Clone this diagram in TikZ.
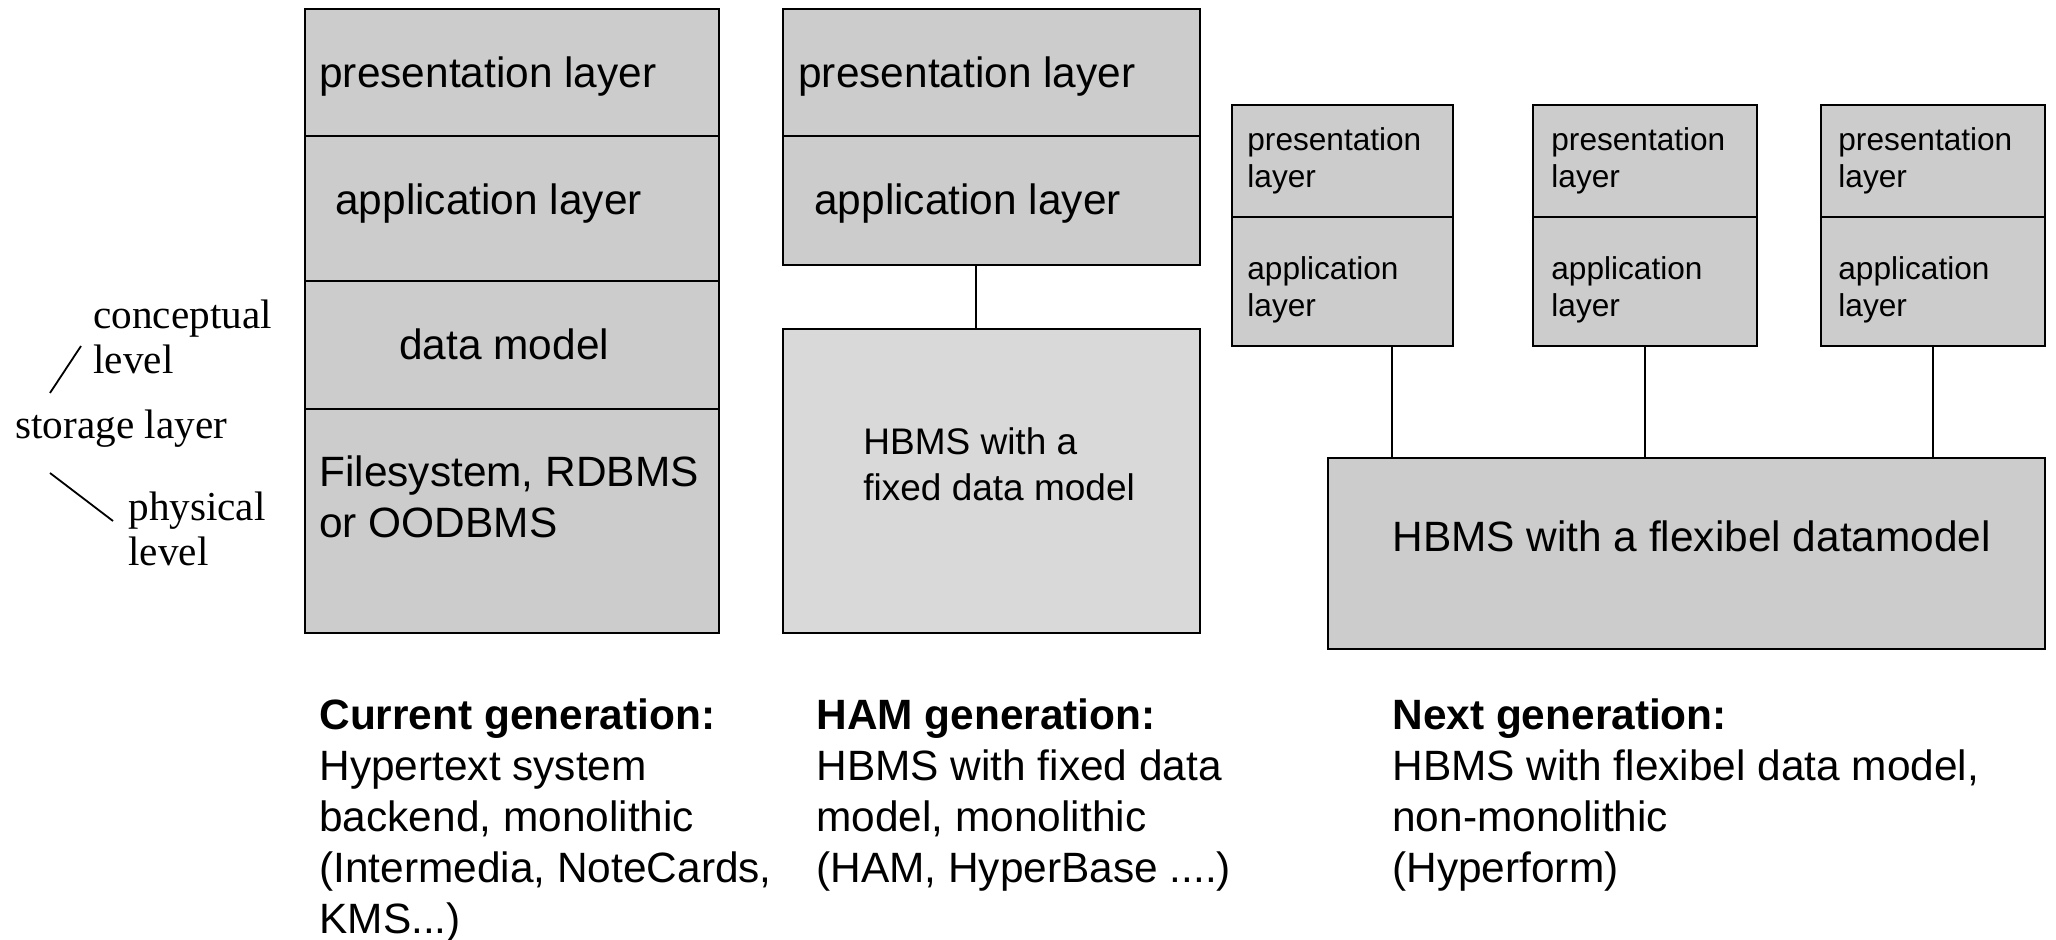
\documentclass[tikz,border=0pt]{standalone}
\usepackage{fontspec}
\setmainfont{Liberation Sans}
\newfontfamily\levelfont{Liberation Serif}
\usetikzlibrary{fit}
\definecolor{layerfill}{gray}{0.80}
\definecolor{hamfill}{gray}{0.85}

\begin{document}
\begin{tikzpicture}[x=0.5pt,y=-0.5pt,
  layerbox/.style={draw=black, fill=layerfill, line width=1.1pt, inner sep=0pt},
  hambox/.style={layerbox, fill=hamfill},
  conn/.style={draw=black, line width=0.9pt},
  % text nodes are placed by the baseline of their last line
  txt/.style={inner sep=0pt, anchor=base west, align=left},
  bigtxt/.style={txt, font=\fontsize{21.2}{25.5}\selectfont},
  midtxt/.style={txt, font=\fontsize{18.5}{23}\selectfont},
  smalltxt/.style={txt, font=\fontsize{15.8}{18.5}\selectfont},
  captxt/.style={txt, font=\fontsize{21.2}{25.5}\selectfont},
  leveltxt/.style={txt, font=\levelfont\fontsize{20.6}{22.6}\selectfont}
]
\useasboundingbox (0,0) rectangle (2056,940);

% current generation: monolithic four-layer stack
\node[layerbox, fit={(305,9) (719,136)}]   (p1) {};
\node[layerbox, fit={(305,136) (719,281)}] (a1) {};
\node[layerbox, fit={(305,281) (719,409)}] (d1) {};
\node[layerbox, fit={(305,409) (719,633)}] (s1) {};
\node[bigtxt] (tp1) at (319,88)  {presentation layer};
\node[bigtxt] (ta1) at (335,215) {application layer};
\node[bigtxt] (td1) at (399,360) {data model};
\node[bigtxt] (ts1) at (319,538) {Filesystem, RDBMS\\or OODBMS};

% HAM generation
\node[layerbox, fit={(783,9) (1200,136)}]   (p2) {};
\node[layerbox, fit={(783,136) (1200,265)}] (a2) {};
\node[hambox,   fit={(783,329) (1200,633)}] (h2) {};
\node[bigtxt] (tp2) at (798,88)  {presentation layer};
\node[bigtxt] (ta2) at (814,215) {application layer};
\node[midtxt] (th2) at (863,501) {HBMS with a\\fixed data model};
\coordinate (k2) at (976,0);
\draw[conn] (a2.south -| k2) -- (h2.north -| k2);

% next generation: several front ends on one flexible HBMS
\node[layerbox, fit={(1232,105) (1453,217)}] (p3) {};
\node[layerbox, fit={(1232,217) (1453,346)}] (a3) {};
\node[layerbox, fit={(1533,105) (1757,217)}] (p4) {};
\node[layerbox, fit={(1533,217) (1757,346)}] (a4) {};
\node[layerbox, fit={(1821,105) (2045,217)}] (p5) {};
\node[layerbox, fit={(1821,217) (2045,346)}] (a5) {};
\node[layerbox, fit={(1328,458) (2045,649)}] (big) {};

\node[smalltxt] (tp3) at (1247,188) {presentation\\layer};
\node[smalltxt] (ta3) at (1247,317) {application\\layer};
\node[smalltxt] (tp4) at (1551,188) {presentation\\layer};
\node[smalltxt] (ta4) at (1551,317) {application\\layer};
\node[smalltxt] (tp5) at (1838,188) {presentation\\layer};
\node[smalltxt] (ta5) at (1838,317) {application\\layer};
\node[bigtxt] (tbig) at (1392,552) {HBMS with a flexibel datamodel};

\coordinate (k3) at (1392,0);
\coordinate (k4) at (1645,0);
\coordinate (k5) at (1933,0);
\draw[conn] (a3.south -| k3) -- (big.north -| k3);
\draw[conn] (a4.south -| k4) -- (big.north -| k4);
\draw[conn] (a5.south -| k5) -- (big.north -| k5);

% storage layer annotation
\node[leveltxt] (lc) at (93,374)  {conceptual\\level};
\node[leveltxt] (ls) at (15,439)  {storage layer};
\node[leveltxt] (lp) at (128,566) {physical\\level};
\coordinate (u1) at (50,393);
\coordinate (u2) at (81,346);
\coordinate (v1) at (50,473);
\coordinate (v2) at (113,521);
\draw[conn] (u1) -- (u2);
\draw[conn] (v1) -- (v2);

% captions
\node[captxt] (c1) at (319,933) {\textbf{Current generation:}\\Hypertext system\\backend, monolithic\\(Intermedia, NoteCards,\\KMS...)};
\node[captxt] (c2) at (816,882) {\textbf{HAM generation:}\\HBMS with fixed data\\model, monolithic\\(HAM, HyperBase ....)};
\node[captxt] (c3) at (1392,882) {\textbf{Next generation:}\\HBMS with flexibel data model,\\non-monolithic\\(Hyperform)};
\end{tikzpicture}
\end{document}
